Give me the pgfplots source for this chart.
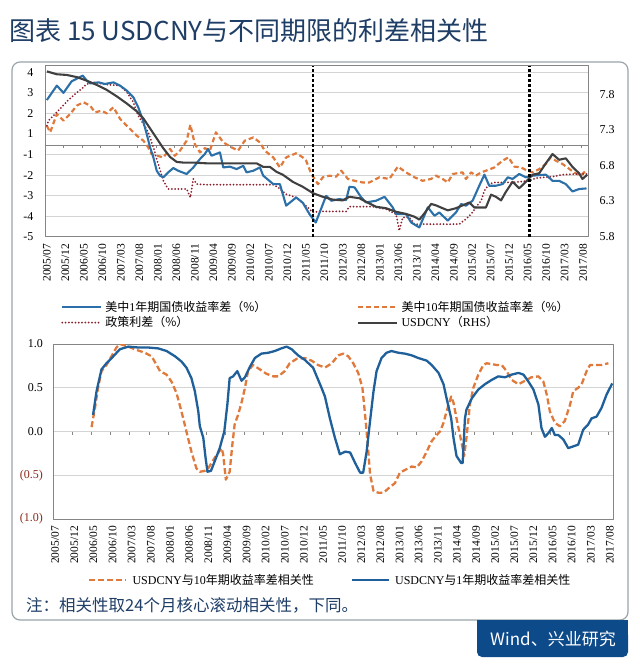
\documentclass[border=0pt]{standalone}
\usepackage{fontspec}
\setmainfont{Liberation Serif}
\newfontfamily\cjk{Noto Sans CJK SC}
\usepackage{pgfplots}
\pgfplotsset{compat=1.18}
\newcommand\ck[1]{{\cjk #1}}
\definecolor{blueA}{HTML}{2B70A8}
\definecolor{blueB}{HTML}{1F5F9A}
\definecolor{orangeA}{HTML}{E07A3C}
\definecolor{dotred}{HTML}{8B1E2B}
\definecolor{greyA}{HTML}{404040}
\definecolor{navy}{HTML}{1F3E66}
\definecolor{gridc}{HTML}{D4D4D4}
\definecolor{axisc}{HTML}{858585}
\definecolor{negred}{HTML}{8B2A1A}
\definecolor{windblue}{HTML}{0D4A8A}
\definecolor{framec}{HTML}{9AA5AA}
\pgfplotsset{
  mylabs/.style={xtick={0,5,...,145},
    xticklabels={2005/07,2005/12,2006/05,2006/10,2007/03,2007/08,2008/01,2008/06,2008/11,2009/04,2009/09,2010/02,2010/07,2010/12,2011/05,2011/10,2012/03,2012/08,2013/01,2013/06,2013/11,2014/04,2014/09,2015/02,2015/07,2015/12,2016/05,2016/10,2017/03,2017/08},
    xticklabel style={rotate=90, anchor=east, inner xsep=7pt, inner ysep=0pt, font=\fontsize{11.5}{12}\selectfont}},
}
\begin{document}
\begin{tikzpicture}[x=1pt,y=1pt]
\path[use as bounding box] (0,0) rectangle (640,-667);
\node[anchor=west, inner sep=0pt, text=navy, font=\cjk\fontsize{26}{30}\selectfont] at (9,-31) {图表 15 USDCNY与不同期限的利差相关性};
\draw[framec, line width=1.2pt, rounded corners=8pt] (12,-62) rectangle (628,-620);
\fill[windblue] (477,-620) rectangle (628,-640);
\fill[windblue, rounded corners=5pt] (477,-630) rectangle (628,-657);
\node[text=white, font=\cjk\fontsize{17}{20}\selectfont, inner sep=0pt] at (553,-639) {Wind、兴业研究};
\node[anchor=west, inner sep=0pt, text=navy, font=\cjk\fontsize{16.5}{20}\selectfont] at (26,-605) {注：相关性取24个月核心滚动相关性，下同。};

% ---------------- top chart, left axis ----------------
\begin{axis}[name=top, scale only axis, width=543pt, height=171pt,
  at={(45pt,-236.7pt)}, anchor=south west,
  xmin=-0.5, xmax=146.3, ymin=-4, ymax=4.32,
  mylabs,
  ytick={-4,...,4}, yticklabels={-5,-4,-3,-2,-1,1,2,3,4},
  yticklabel style={font=\fontsize{12}{12}\selectfont, xshift=-8pt},
  major tick length=0pt,
  ymajorgrids, grid style={gridc, line width=0.8pt},
  axis line style={axisc, line width=0.8pt},
  line join=round]
\draw[axisc, line width=0.8pt] (axis cs:-0.5,0.45) -- (axis cs:146.3,0.45);
\pgfplotsinvokeforeach{1,...,29}{\draw[axisc, line width=0.8pt] (axis cs:{5*#1-0.5},0.45) -- ++(0pt,-3pt);}
\addplot[orangeA, line width=2.2pt, dash pattern=on 5pt off 3pt] coordinates {
(0,1.40)(0.9,1.08)(2.7,1.97)(4.5,1.65)(6.3,1.97)(8.1,2.38)(9.9,2.54)(11.7,2.38)(13,2.05)(14.8,2.13)(16.2,2.0)(18,2.30)(19.8,1.73)(21.6,1.40)(24.3,0.92)(26.1,0.67)(27.4,0.35)(28.3,0.03)(29.7,-0.06)(31.5,-0.14)(33.3,0.27)(34.6,-0.06)(36,0.19)(37.8,0.67)(38.8,1.45)(40,0.51)(41.4,0.10)(42.7,0.31)(44.1,0.19)(45.7,1.08)(47.7,0.59)(49.9,0.35)(51.7,0.19)(53.5,0.67)(55.8,0.83)(57.6,0.59)(58.9,0.19)(61.2,-0.14)(63,-0.63)(64.7,-0.14)(67.4,0.06)(69.2,-0.14)(70.1,-0.30)(71.5,-0.95)(73.3,-1.44)(74.6,-1.11)(76.4,-1.03)(78.2,-1.08)(79.6,-0.79)(81.4,-1.19)(83.2,-1.28)(85.4,-1.36)(87.2,-1.36)(89.9,-1.11)(92.6,-1.19)(94.9,-0.59)(97.1,-0.87)(99.4,-1.11)(101.6,-1.28)(103.9,-1.19)(105.2,-1.03)(107.0,-1.19)(108.4,-1.36)(109.7,-0.95)(112.4,-0.87)(113.3,-1.19)(114.7,-0.87)(116.0,-1.03)(117.4,-0.87)(118.7,-0.79)(121.0,-0.63)(123.2,-0.30)(124.8,-0.14)(126.4,-0.59)(128.2,-0.63)(129.9,-0.79)(131.3,-0.87)(133.1,-0.71)(134.9,-0.46)(136.2,-0.14)(137.6,-0.30)(139.4,-0.46)(140.7,-0.63)(142.5,-0.87)(144.3,-1.03)(145.9,-0.76)};
\addplot[dotred, line width=2pt, line cap=round, dash pattern=on 0pt off 3.3pt] coordinates {
(0,1.40)(0.45,1.65)(2.2,1.97)(4.0,2.30)(5.8,2.65)(7.6,2.94)(9.4,3.19)(10.8,3.43)(12.6,3.51)(16.2,3.40)(19.8,3.35)(21.6,3.03)(23.4,2.54)(24.7,1.89)(26.1,1.48)(27.4,1.08)(28.8,0.35)(30.1,-0.46)(31.5,-1.28)(32.8,-1.68)(36.0,-1.68)(37.8,-1.68)(38.8,-2.09)(39.6,-1.19)(40.5,-1.44)(43.2,-1.47)(52.2,-1.47)(61.2,-1.47)(62.5,-1.60)(64.7,-1.93)(67.4,-2.09)(70.1,-2.5)(71.9,-2.82)(73.7,-2.77)(80.9,-2.77)(81.8,-2.54)(88.1,-2.54)(91.7,-2.66)(94.4,-2.90)(95.3,-3.71)(96.2,-3.06)(98.0,-3.06)(99.4,-3.39)(111.5,-3.39)(113.3,-3.14)(114.7,-2.90)(116.0,-2.57)(117.4,-2.25)(118.3,-1.76)(119.6,-1.44)(121.0,-1.36)(125.9,-1.36)(128.6,-1.31)(130.4,-1.28)(132.2,-1.15)(134.4,-1.11)(136.7,-1.08)(139.4,-0.98)(143.0,-0.95)(145.9,-0.95)};
\addplot[blueA, line width=2.1pt] coordinates {
(0,2.65)(2.7,3.35)(4.5,3.0)(6.7,3.56)(8,3.68)(9.7,3.84)(10.8,3.59)(11.7,3.46)(14,3.51)(15.7,3.43)(18,3.51)(19.8,3.35)(21.6,3.11)(23.4,2.78)(24.7,2.30)(26,1.65)(27,1.0)(27.9,0.35)(28.8,-0.14)(29.7,-0.79)(30.6,-1.03)(31.5,-1.11)(32.8,-0.87)(34.2,-0.66)(35.5,-0.79)(37.8,-0.95)(39.6,-0.63)(41.4,-0.22)(42.7,0.02)(43.6,0.27)(44.5,-0.06)(46.8,0.10)(47.7,-0.63)(49.5,-0.59)(51.3,-0.71)(53.1,-0.55)(54,-0.87)(55.8,-0.79)(57.6,-0.63)(58.5,-1.03)(61.2,-1.44)(63,-1.44)(64.7,-2.49)(67.4,-2.09)(69.2,-2.35)(71,-2.9)(72.7,-3.31)(75.5,-2.01)(76.9,-2.25)(79.1,-2.17)(80.9,-2.22)(81.8,-1.57)(83.2,-1.60)(85.0,-2.09)(86.3,-2.33)(89.0,-2.25)(91.3,-2.06)(93.5,-2.57)(94.4,-2.90)(97.1,-2.90)(98.5,-3.31)(100.7,-3.55)(103.0,-2.57)(104.8,-2.98)(106.1,-2.82)(108.4,-3.22)(110.6,-2.82)(112.0,-2.41)(113.3,-2.49)(115.1,-2.25)(116.9,-1.52)(118.3,-0.98)(119.6,-1.52)(121.4,-1.52)(123.2,-1.44)(124.6,-1.11)(125.9,-1.19)(127.7,-0.95)(129.5,-1.11)(131.3,-1.03)(134.9,-0.98)(136.7,-1.28)(138.5,-1.28)(140.3,-1.44)(142.1,-1.80)(143.9,-1.68)(145.9,-1.65)};
\end{axis}

% ---------------- top chart, right axis ----------------
\begin{axis}[scale only axis, width=543pt, height=171pt,
  at={(45pt,-236.7pt)}, anchor=south west,
  xmin=-0.5, xmax=146.3, ymin=5.8, ymax=8.2,
  axis x line=none, axis y line*=right, y axis line style={draw=none},
  ytick={5.8,6.3,6.8,7.3,7.8}, yticklabels={5.8,6.3,6.8,7.3,7.8},
  yticklabel style={font=\fontsize{12}{12}\selectfont, xshift=8pt},
  major tick length=0pt, line join=round,
  legend columns=2, legend cell align=left,
  legend image code/.code={\draw[#1] (0pt,0pt) -- (39pt,0pt);},
  legend style={at={(axis description cs:0,0)}, anchor=north west, xshift=16pt, yshift=-62pt,
    draw=none, fill=none, inner sep=0pt, font=\fontsize{12}{14}\selectfont,
    nodes={inner sep=2pt},
    /tikz/every odd column/.append style={column sep=1pt},
    /tikz/every even column/.append style={column sep=89pt}}]
\addlegendimage{blueA, line width=2.1pt}
\addlegendentry{\ck{美中}1\ck{年期国债收益率差（\%）}}
\addlegendimage{orangeA, line width=2.2pt, dash pattern=on 5pt off 3pt}
\addlegendentry{\ck{美中}10\ck{年期国债收益率差（\%）}}
\addlegendimage{dotred, line width=2pt, line cap=round, dash pattern=on 0pt off 3.3pt}
\addlegendentry{\ck{政策利差（\%）}}
\addplot[greyA, line width=2.1pt] coordinates {
(0,8.12)(2.7,8.08)(5.4,8.07)(8.1,8.04)(10.8,7.99)(13.5,7.93)(16.2,7.86)(18.9,7.77)(21.6,7.67)(24.3,7.56)(26.1,7.46)(27.9,7.32)(29.7,7.18)(31.5,7.04)(33.3,6.92)(35.1,6.85)(36.9,6.84)(39.6,6.84)(43.2,6.83)(47.7,6.83)(52.2,6.83)(56.7,6.83)(58.5,6.78)(60.3,6.78)(62.1,6.71)(63.8,6.67)(66.5,6.57)(69.2,6.50)(72.0,6.41)(74.6,6.36)(77.3,6.32)(80.0,6.31)(81.8,6.36)(84.5,6.34)(86.3,6.29)(89.0,6.22)(91.7,6.20)(94.4,6.15)(97.1,6.12)(99.4,6.08)(100.7,6.04)(102.1,6.13)(103.9,6.26)(105.2,6.24)(107.0,6.20)(108.4,6.17)(110.6,6.20)(112.4,6.24)(114.2,6.28)(115.6,6.21)(118.7,6.21)(120.1,6.39)(121.4,6.36)(122.8,6.31)(124.1,6.43)(125.9,6.57)(127.7,6.48)(129.5,6.57)(131.3,6.67)(133.1,6.69)(134.9,6.83)(136.7,6.96)(138.5,6.88)(140.3,6.90)(142.1,6.78)(143.9,6.69)(144.8,6.61)(146.1,6.67)};
\addlegendentry{USDCNY\ck{（}RHS\ck{）}}
\addplot[black, line width=2.6pt, dash pattern=on 2.6pt off 2.4pt, forget plot] coordinates {(72,5.8)(72,8.2)};
\addplot[black, line width=2.6pt, dash pattern=on 2.6pt off 2.4pt, forget plot] coordinates {(130.5,5.8)(130.5,8.2)};
\end{axis}

% ---------------- bottom chart ----------------
\begin{axis}[scale only axis, width=559.7pt, height=175pt,
  at={(53.3pt,-519pt)}, anchor=south west,
  xmin=-0.5, xmax=145.8, ymin=-1, ymax=1,
  mylabs,
  ytick={-1,-0.5,0,0.5,1},
  yticklabels={{\color{negred}(1.0)},{\color{negred}(0.5)},0.0,0.5,1.0},
  yticklabel style={font=\fontsize{12}{12}\selectfont, xshift=-7pt},
  major tick length=0pt,
  ymajorgrids, grid style={gridc, line width=0.8pt},
  axis line style={axisc, line width=0.8pt},
  line join=round,
  legend columns=2, legend cell align=left,
  legend image code/.code={\draw[#1] (0pt,0pt) -- (37pt,0pt);},
  legend style={at={(axis description cs:0,0)}, anchor=north west, xshift=34.7pt, yshift=-53pt,
    draw=none, fill=none, inner sep=0pt, font=\fontsize{12}{14}\selectfont,
    nodes={inner sep=2pt},
    /tikz/every odd column/.append style={column sep=3pt},
    /tikz/every even column/.append style={column sep=35pt}}]
\pgfplotsinvokeforeach{1,...,29}{\draw[axisc, line width=0.8pt] (axis cs:{5*#1-0.5},0) -- ++(0pt,-3pt);}
\addplot[orangeA, line width=2.3pt, dash pattern=on 6pt off 3pt] coordinates {
(9.5,0.05)(10.4,0.27)(11.2,0.50)(12.1,0.69)(13.4,0.76)(14.7,0.86)(16.0,0.96)(16.9,1.0)(19.1,0.97)(20.8,0.94)(23.4,0.90)(25.2,0.86)(26.5,0.76)(27.4,0.69)(29.1,0.65)(30.4,0.57)(31.7,0.44)(33.0,0.23)(34.3,0.0)(35.6,-0.23)(36.9,-0.42)(37.8,-0.46)(39.1,-0.45)(40.0,-0.42)(41.7,-0.30)(43.5,-0.19)(43.9,-0.26)(44.6,-0.55)(45.6,-0.46)(46.3,-0.15)(46.9,0.08)(47.8,0.19)(48.7,0.33)(49.6,0.50)(50.4,0.69)(51.7,0.76)(53.5,0.71)(55.2,0.66)(57.0,0.63)(58.3,0.63)(60.0,0.69)(61.3,0.78)(63.1,0.83)(65.2,0.84)(67.0,0.81)(68.7,0.76)(70.5,0.73)(72.3,0.78)(74.0,0.87)(75.3,0.89)(76.6,0.86)(77.9,0.78)(79.2,0.67)(80.3,0.50)(81.0,0.19)(81.7,-0.15)(82.3,-0.49)(83.2,-0.68)(84.5,-0.70)(85.8,-0.70)(87.1,-0.65)(88.8,-0.59)(90.1,-0.47)(91.4,-0.44)(93.2,-0.40)(94.5,-0.41)(95.8,-0.34)(97.1,-0.23)(98.4,-0.11)(99.7,-0.04)(100.6,0.0)(101.5,0.10)(102.3,0.23)(103.5,0.40)(104.1,0.33)(104.9,0.15)(105.8,-0.04)(106.9,-0.28)(107.5,-0.07)(108.4,0.31)(109.3,0.50)(110.6,0.65)(111.9,0.76)(112.8,0.78)(114.1,0.77)(115.4,0.76)(116.7,0.76)(118.0,0.69)(119.3,0.59)(121.1,0.54)(122.8,0.58)(124.5,0.62)(126.3,0.63)(127.6,0.57)(128.5,0.42)(129.3,0.23)(130.6,0.10)(131.9,0.06)(133.2,0.12)(134.6,0.31)(135.4,0.46)(136.7,0.50)(137.6,0.54)(138.9,0.69)(139.8,0.76)(141.1,0.76)(142.8,0.76)(144.6,0.78)};
\addlegendentry{USDCNY\ck{与}10\ck{年期收益率差相关性}}
\addplot[blueB, line width=2.3pt] coordinates {
(9.9,0.19)(10.8,0.46)(12.1,0.71)(13.4,0.78)(15.2,0.86)(16.9,0.94)(19.1,0.97)(21.7,0.96)(24.3,0.96)(26.9,0.95)(29.1,0.92)(31.3,0.86)(33.0,0.80)(34.3,0.73)(35.6,0.61)(36.5,0.46)(37.4,0.23)(37.8,0.06)(38.7,-0.07)(39.3,-0.30)(39.8,-0.46)(40.7,-0.45)(41.7,-0.34)(43.0,-0.19)(44.2,0.0)(45.0,0.31)(45.6,0.61)(46.5,0.63)(47.6,0.69)(48.7,0.58)(49.6,0.62)(50.9,0.74)(52.2,0.84)(53.9,0.89)(55.7,0.90)(57.4,0.92)(59.1,0.95)(60.5,0.97)(61.8,0.94)(63.5,0.87)(65.2,0.82)(67.4,0.73)(69.6,0.50)(70.5,0.40)(71.8,0.15)(73.1,-0.07)(74.4,-0.26)(75.8,-0.23)(77.1,-0.24)(78.4,-0.36)(79.7,-0.47)(80.5,-0.47)(81.4,-0.23)(82.3,0.12)(83.2,0.46)(84.0,0.69)(85.3,0.84)(86.6,0.90)(87.9,0.92)(89.7,0.90)(91.4,0.89)(93.2,0.87)(94.9,0.84)(97.1,0.81)(98.4,0.76)(100.2,0.67)(101.5,0.54)(102.3,0.38)(103.5,0.15)(104.1,-0.07)(104.9,-0.28)(106.1,-0.36)(106.5,-0.36)(107.1,0.15)(107.5,0.25)(108.9,0.38)(110.6,0.48)(112.3,0.54)(114.1,0.59)(115.8,0.63)(117.6,0.62)(119.3,0.65)(121.1,0.67)(122.4,0.65)(123.7,0.57)(125.0,0.48)(126.3,0.31)(127.1,0.04)(128.0,-0.06)(128.9,-0.02)(129.8,0.04)(130.6,-0.04)(131.5,-0.04)(132.8,-0.09)(134.1,-0.19)(135.4,-0.17)(136.7,-0.15)(138.0,0.02)(139.3,0.08)(140.2,0.15)(141.5,0.17)(142.8,0.27)(144.1,0.42)(145.6,0.55)};
\addlegendentry{USDCNY\ck{与}1\ck{年期收益率差相关性}}
\end{axis}
\end{tikzpicture}
\end{document}
